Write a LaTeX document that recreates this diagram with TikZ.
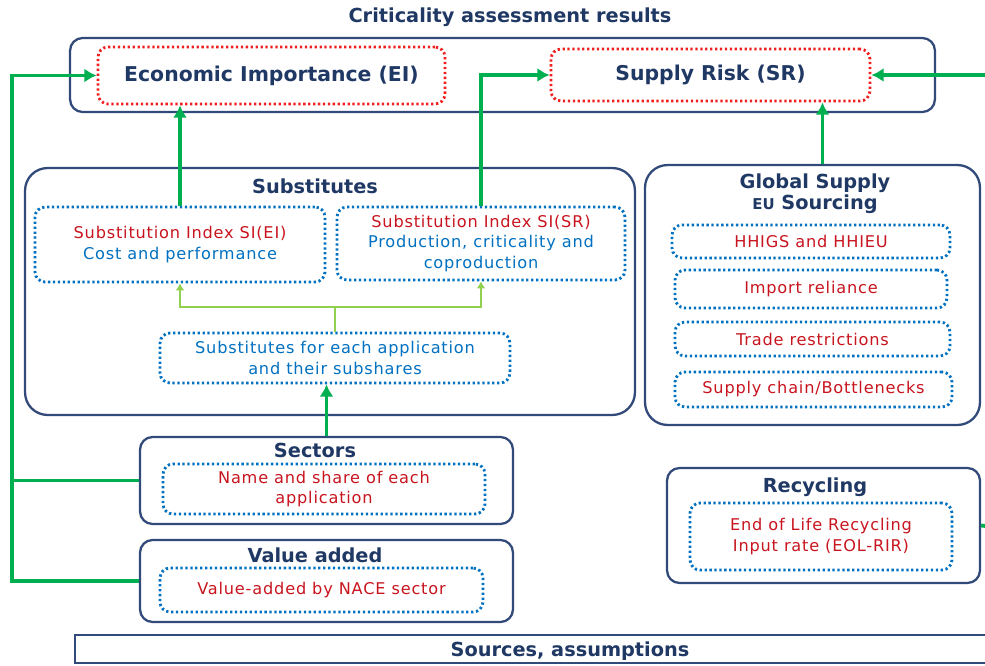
\documentclass[tikz,border=0pt]{standalone}
\usepackage{fontspec}
\setmainfont{DejaVu Sans}
\newfontfamily\boxfont{DejaVu Sans}[LetterSpace=5]
\usetikzlibrary{arrows.meta,positioning}
\definecolor{navy}{RGB}{31,56,100}
\definecolor{boxline}{RGB}{50,74,122}
\definecolor{flowgreen}{RGB}{0,176,80}
\definecolor{lightgreen}{RGB}{146,208,80}
\definecolor{dotred}{RGB}{240,30,30}
\definecolor{dotblue}{RGB}{0,112,192}
\definecolor{txtred}{RGB}{200,20,30}
\definecolor{txtblue}{RGB}{0,112,192}

\tikzset{
  outerbox/.style={draw=boxline, line width=1.3pt, rounded corners=0.45cm, inner sep=0pt},
  topbox/.style={draw=boxline, line width=1.3pt, rounded corners=0.25cm, inner sep=0pt},
  redbox/.style={draw=dotred, line width=1.6pt, dash pattern=on 1.3pt off 1.5pt, rounded corners=0.2cm,
    text=navy, font=\fontsize{11.6}{13}\selectfont\bfseries},
  bluebox/.style={draw=dotblue, line width=1.6pt, dash pattern=on 1.3pt off 1.5pt, rounded corners=0.2cm,
    align=center, font=\boxfont\fontsize{9.2}{11.6}\selectfont, text=txtred, inner sep=0pt},
  headtxt/.style={text=navy, font=\fontsize{11}{12.5}\selectfont\bfseries},
  greenarrow/.style={draw=flowgreen, line width=2.2pt, -{Latex[length=7pt,width=8pt]}},
  greenline/.style={draw=flowgreen, line width=2.2pt},
  lightarrow/.style={draw=lightgreen, line width=0.7pt, -{Latex[length=4pt,width=5pt]}}
}

\begin{document}
\begin{tikzpicture}[x=0.02cm, y=-0.02cm]
  \useasboundingbox (0,0) rectangle (985,666);

  % results
  \node[headtxt] (title) at (510,17) {Criticality assessment results};
  \node[topbox, minimum width=17.3cm, minimum height=1.48cm] (results) at (502.5,75) {};
  \node[redbox, minimum width=6.94cm, minimum height=1.14cm] (ei) at (271.5,75.5) {Economic Importance (EI)};
  \node[redbox, minimum width=6.38cm, minimum height=1.04cm] (sr) at (710.5,75) {Supply Risk (SR)};

  % substitutes
  \node[outerbox, minimum width=12.2cm, minimum height=4.94cm] (subst) at (330,291.5) {};
  \node[headtxt] (substtitle) at (315,186) {Substitutes};
  \node[bluebox, minimum width=5.8cm, minimum height=1.5cm] (siei) at (180,244.5)
    {Substitution Index SI(EI)\\\textcolor{txtblue}{Cost and performance}};
  \node[bluebox, minimum width=5.76cm, minimum height=1.46cm] (sisr) at (481,243.5)
    {Substitution Index SI(SR)\\\textcolor{txtblue}{Production, criticality and}\\\textcolor{txtblue}{coproduction}};
  \node[bluebox, text=txtblue, minimum width=7cm, minimum height=1cm] (subsapp) at (335,358)
    {Substitutes for each application\\and their subshares};

  % global supply
  \node[outerbox, minimum width=6.7cm, minimum height=5.2cm] (global) at (812.5,295) {};
  \node[headtxt] (globaltitle) at (815,183) {Global Supply};
  \node[headtxt] (eutitle) at (815,204) {{\fontsize{8.5}{9}\selectfont EU} Sourcing};
  \node[bluebox, minimum width=5.56cm, minimum height=0.66cm] (hhi) at (811,241.5) {HHIGS and HHIEU};
  \node[bluebox, minimum width=5.44cm, minimum height=0.76cm] (import) at (811,289) {Import reliance};
  \node[bluebox, minimum width=5.5cm, minimum height=0.68cm] (trade) at (812.5,339) {Trade restrictions};
  \node[bluebox, minimum width=5.54cm, minimum height=0.7cm] (chain) at (813.5,389.5) {Supply chain/Bottlenecks};

  % sectors and value added
  \node[topbox, minimum width=7.46cm, minimum height=1.74cm] (sectors) at (326.5,480.5) {};
  \node[headtxt] (sectorstitle) at (315,450) {Sectors};
  \node[bluebox, minimum width=6.44cm, minimum height=1cm] (share) at (324,489)
    {Name and share of each\\application};
  \node[topbox, minimum width=7.46cm, minimum height=1.64cm] (valadd) at (326.5,581) {};
  \node[headtxt] (valaddtitle) at (315,555) {Value added};
  \node[bluebox, minimum width=6.46cm, minimum height=0.88cm] (nace) at (321.5,590) {Value-added by NACE sector};

  % recycling
  \node[topbox, minimum width=6.26cm, minimum height=2.3cm] (recycling) at (823.5,525.5) {};
  \node[headtxt] (recyclingtitle) at (815,487) {Recycling};
  \node[bluebox, minimum width=5.24cm, minimum height=1.34cm] (eolrir) at (821,536.5)
    {End of Life Recycling\\Input rate (EOL-RIR)};

  % sources
  \node[draw=boxline, line width=1.3pt, minimum width=18.5cm, minimum height=0.56cm] (sources) at (537.5,649) {};
  \node[headtxt] (sourcestxt) at (570,651) {Sources, assumptions};

  % flows
  \coordinate (leftrail) at (12,480.5);
  \coordinate (rightin) at (995,75);
  \coordinate (rightout) at (995,527);
  \coordinate (split) at (335,307);
  \draw[greenarrow] (siei.north) -- (siei.north |- ei.south);
  \draw[greenarrow] (sisr.north) |- (sr.west);
  \draw[greenarrow] ([xshift=0.2cm]global.north) -- ([xshift=0.2cm]global.north |- sr.south);
  \draw[greenarrow] (rightin) -- (sr.east);
  \draw[greenline] (recycling.east) -- (rightout);
  \draw[greenarrow] (valadd.west) -| (leftrail) |- (ei.west);
  \draw[greenline] (sectors.west) -- (leftrail);
  \draw[greenarrow] (sectors.north) -- (sectors.north |- subsapp.south);
  \draw[lightarrow] (subsapp.north) -- (split) -| (siei.south);
  \draw[lightarrow] (split) -| (sisr.south);
\end{tikzpicture}
\end{document}
